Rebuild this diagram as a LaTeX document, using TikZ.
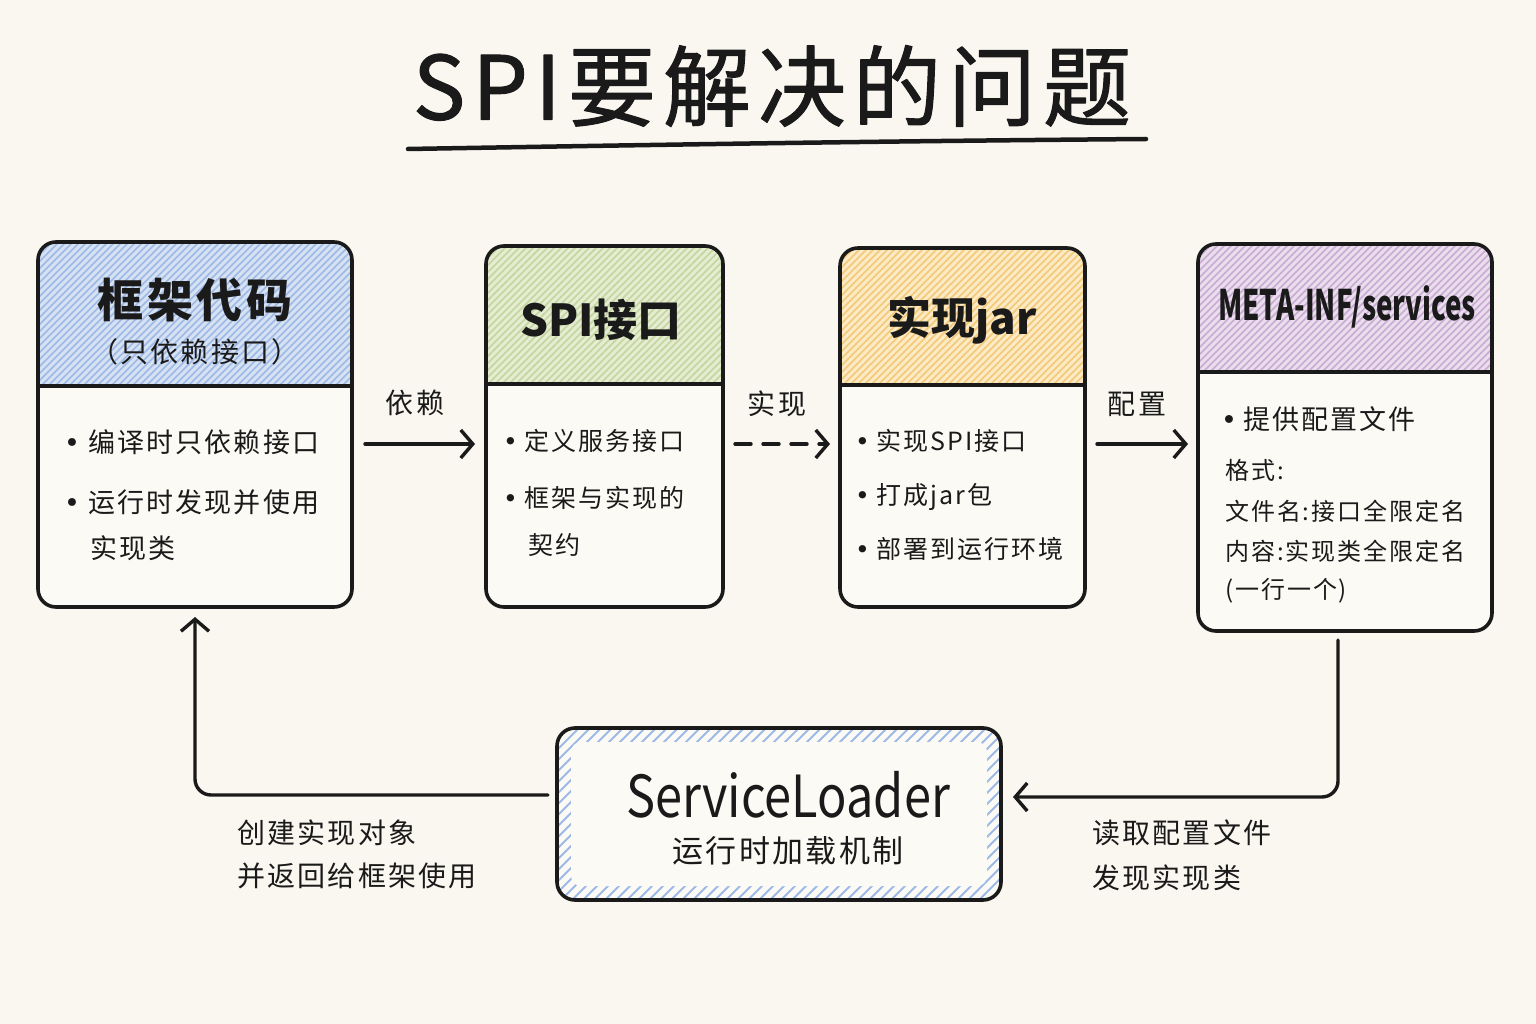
\documentclass[tikz,border=0pt]{standalone}
\usepackage{fontspec}
\setmainfont{Noto Sans CJK SC}[LetterSpace=8]
\newfontfamily\plainf{Noto Sans CJK SC}
\newfontfamily\titlef{Noto Sans CJK SC}[LetterSpace=8,FakeBold=1.2]
\newfontfamily\dv{DejaVu Sans}
\usetikzlibrary{arrows.meta,calc}
\definecolor{bg}{HTML}{FAF7F0}
\definecolor{bodyc}{HTML}{FCFAF5}
\definecolor{ink}{HTML}{1A1A1A}
\definecolor{bluef}{HTML}{D6E1F2}
\definecolor{bluel}{HTML}{9DB9E8}
\definecolor{greenf}{HTML}{E5ECD2}
\definecolor{greenl}{HTML}{C3D69E}
\definecolor{yelf}{HTML}{FBEAC4}
\definecolor{yell}{HTML}{F3C877}
\definecolor{purf}{HTML}{EADEEC}
\definecolor{purl}{HTML}{C9ABD5}
\newcommand\hatchlines[6]{%
  \foreach \s in {0,#6,...,620} {\draw[#5,line width=1.7] ({#1-(#4-#2)+\s},#4) -- ++({#4-#2},{-(#4-#2)});}}
\newcommand\bul{{\dv •}}
\begin{document}
\begin{tikzpicture}[x=1pt,y=-1pt,line join=round,line cap=round,
  boxn/.style={rectangle,rounded corners=18,fill=bodyc,inner sep=0,outer sep=0},
  outline/.style={draw=ink,line width=3.6,rounded corners=18},
  head/.style={font=\fontsize{46}{50}\selectfont\bfseries,text=ink},
  sub/.style={font=\fontsize{28}{32}\selectfont,text=ink},
  txt/.style={font=\fontsize{27}{30}\selectfont,text=ink,anchor=west,inner sep=0},
  txm/.style={font=\fontsize{25}{30}\selectfont,text=ink,anchor=west,inner sep=0},
  txs/.style={font=\fontsize{24}{28}\selectfont,text=ink,anchor=west,inner sep=0},
  lbl/.style={font=\fontsize{28}{30}\selectfont,text=ink,inner sep=0},
  arr/.style={draw=ink,line width=3.4,-{Straight Barb[length=12,width=28,line width=3.4]}},
]
\fill[bg] (0,0) rectangle (1536,1024);
\useasboundingbox (0,0) rectangle (1536,1024);

% title
\node[font=\fontsize{88}{96}\titlef,text=ink] (title) at (772,86) {SPI要解决的问题};
\draw[ink,line width=4.5] (408,149) .. controls (700,144) and (900,141) .. (1146,139);

% boxes
\node[boxn,minimum width=314,minimum height=365] (b1) at (195,424.5) {};
\node[boxn,minimum width=237,minimum height=361] (b2) at (604.5,426.5) {};
\node[boxn,minimum width=245,minimum height=359] (b3) at (962.5,427.5) {};
\node[boxn,minimum width=294,minimum height=387] (b4) at (1345,437.5) {};
\node[boxn,minimum width=444,minimum height=172] (sl) at (779,814) {};

% headers
\begin{scope}
\clip[rounded corners=18] (38,242) rectangle (352,607);
\fill[bluef] (38,242) rectangle (352,386);
\hatchlines{38}{242}{352}{386}{bluel}{7}
\end{scope}
\begin{scope}
\clip[rounded corners=18] (486,246) rectangle (723,607);
\fill[greenf] (486,246) rectangle (723,384);
\hatchlines{486}{246}{723}{384}{greenl}{7}
\end{scope}
\begin{scope}
\clip[rounded corners=18] (840,248) rectangle (1085,607);
\fill[yelf] (840,248) rectangle (1085,385);
\hatchlines{840}{248}{1085}{385}{yell}{7}
\end{scope}
\begin{scope}
\clip[rounded corners=18] (1198,244) rectangle (1492,631);
\fill[purf] (1198,244) rectangle (1492,372);
\hatchlines{1198}{244}{1492}{372}{purl}{7}
\end{scope}
% serviceloader hatched frame
\begin{scope}
\clip[rounded corners=18] (557,728) rectangle (1001,900);
\foreach \s in {0,11,...,640} {\draw[bluel,line width=1.8] ({557-172+\s},900) -- ++(172,-172);}
\fill[bodyc,rounded corners=10] (571,742) rectangle (987,886);
\end{scope}

% outlines
\draw[outline] (b1.north west) rectangle (b1.south east);
\draw[ink,line width=3.4] (b1.west|-0,386) -- (b1.east|-0,386);
\draw[outline] (b2.north west) rectangle (b2.south east);
\draw[ink,line width=3.4] (b2.west|-0,384) -- (b2.east|-0,384);
\draw[outline] (b3.north west) rectangle (b3.south east);
\draw[ink,line width=3.4] (b3.west|-0,385) -- (b3.east|-0,385);
\draw[outline] (b4.north west) rectangle (b4.south east);
\draw[ink,line width=3.4] (b4.west|-0,372) -- (b4.east|-0,372);
\draw[outline] (sl.north west) rectangle (sl.south east);

% header texts
\node[head] (h1) at (195,300) {框架代码};
\node[sub] (h1b) at (195,352) {（只依赖接口）};
\node[head,font=\fontsize{44}{50}\plainf\bfseries] (h2) at (601,320) {SPI接口};
\node[head,font=\fontsize{44}{50}\plainf\bfseries] (h3) at (962,320) {实现jar};
\node[font=\fontsize{42}{46}\plainf\bfseries,text=ink] (h4) at (1347,307) {\scalebox{0.66}[1]{META-INF/services}};

% body texts
\node[txt] (t11) at (64,442) {\bul\hspace{8pt}编译时只依赖接口};
\node[txt] (t12) at (64,502) {\bul\hspace{8pt}运行时发现并使用};
\node[txt] (t13) at (90,548) {实现类};
\node[txm] (t21) at (503,441) {\bul\hspace{7pt}定义服务接口};
\node[txm] (t22) at (503,498) {\bul\hspace{7pt}框架与实现的};
\node[txm] (t23) at (528,545) {契约};
\node[txm] (t31) at (855,441) {\bul\hspace{7pt}实现SPI接口};
\node[txm] (t32) at (855,497) {\bul\hspace{7pt}打成jar包};
\node[txm] (t33) at (855,549) {\bul\hspace{7pt}部署到运行环境};
\node[txt] (t41) at (1221,419) {\bul\hspace{6pt}提供配置文件};
\node[txs] (t42) at (1225,470) {格式:};
\node[txs] (t43) at (1225,511) {文件名:接口全限定名};
\node[txs] (t44) at (1225,551) {内容:实现类全限定名};
\node[txs] (t45) at (1225,591) {(一行一个)};

\node[font=\fontsize{58}{62}\plainf,text=ink] (s1) at (788,795) {\scalebox{0.84}[1]{ServiceLoader}};
\node[font=\fontsize{31}{34}\selectfont,text=ink] (s2) at (788,851) {运行时加载机制};

% connectors
\coordinate (ay) at (0,444);
\draw[arr,shorten <=13,shorten >=11] (b1.east|-ay) -- (b2.west|-ay);
\draw[arr,dash pattern=on 16 off 12,shorten <=12,shorten >=10] (b2.east|-ay) -- (b3.west|-ay);
\draw[arr,shorten <=12,shorten >=10] (b3.east|-ay) -- (b4.west|-ay);
\node[lbl] (l1) at (415,403) {依赖};
\node[lbl] (l2) at (777,404) {实现};
\node[lbl] (l3) at (1137,404) {配置};

\draw[arr,rounded corners=16] ($(b4.south)+(-7,9)$) |- ($(sl.east)+(12,-17)$);
\draw[arr,rounded corners=16] ($(sl.west)+(-9,-19)$) -| ($(b1.south)+(0,10)$);

\node[lbl,anchor=west] (r1) at (1092,833) {读取配置文件};
\node[lbl,anchor=west] (r2) at (1092,878) {发现实现类};
\node[lbl,anchor=west] (q1) at (237,833) {创建实现对象};
\node[lbl,anchor=west] (q2) at (237,876) {并返回给框架使用};
\end{tikzpicture}
\end{document}
